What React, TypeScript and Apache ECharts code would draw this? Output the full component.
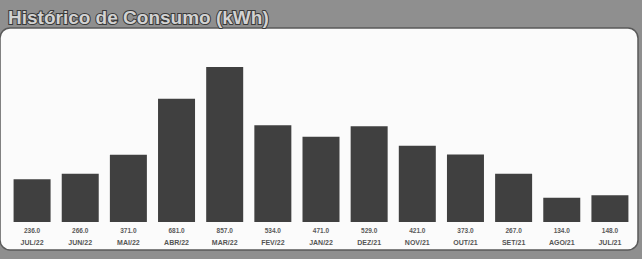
import React, { useEffect, useRef } from "react";
import * as echarts from "echarts";

const categories = ["JUL/22", "JUN/22", "MAI/22", "ABR/22", "MAR/22", "FEV/22", "JAN/22", "DEZ/21", "NOV/21", "OUT/21", "SET/21", "AGO/21", "JUL/21"];
const consumo = [236, 266, 371, 681, 857, 534, 471, 529, 421, 373, 267, 134, 148];
const title = "Histórico de Consumo (kWh)";

export default function App() {
  const ref = useRef<HTMLDivElement>(null);
  useEffect(() => {
    document.body.style.margin = "0";
    const chart = echarts.init(ref.current!, null, { renderer: "svg" });
    chart.setOption({
      animation: false,
      backgroundColor: "#8f8f8f",
      title: {
        text: title,
        left: 3,
        top: 3,
        textStyle: {
          fontFamily: "Liberation Sans",
          fontSize: 19,
          fontWeight: "bold",
          color: "#d2d2d2",
          textBorderColor: "#3a3a3a",
          textBorderWidth: 2,
        },
      },
      graphic: [
        {
          type: "rect",
          z: -10,
          shape: { x: 0, y: 28, width: 638, height: 222, r: 10 },
          style: { fill: "#fbfbfb", stroke: "#5a5a5a", lineWidth: 1.5 },
        },
      ],
      grid: { left: 8, right: 8, top: 41, bottom: 37 },
      xAxis: {
        type: "category",
        data: categories,
        axisLine: { show: false },
        axisTick: { show: false },
        axisLabel: {
          interval: 0,
          margin: 2,
          lineHeight: 12,
          formatter: (v: string, i: number) => `{v|${consumo[i].toFixed(1)}}\n{c|${v}}`,
          rich: {
            v: { fontFamily: "Liberation Sans", fontSize: 6.5, color: "#5a5a5a", fontWeight: "bold", lineHeight: 12 },
            c: { fontFamily: "Liberation Sans", fontSize: 7, color: "#555", fontWeight: "bold", lineHeight: 12 },
          },
        },
      },
      yAxis: { type: "value", min: 0, max: 1000, show: false, splitLine: { show: false } },
      series: [
        {
          type: "bar",
          data: consumo,
          barWidth: 37,
          itemStyle: { color: "#404040" },
        },
      ],
    });
    return () => chart.dispose();
  }, []);
  return <div ref={ref} style={{ position: "fixed", left: 0, top: 0, width: 642, height: 259 }} />;
}
